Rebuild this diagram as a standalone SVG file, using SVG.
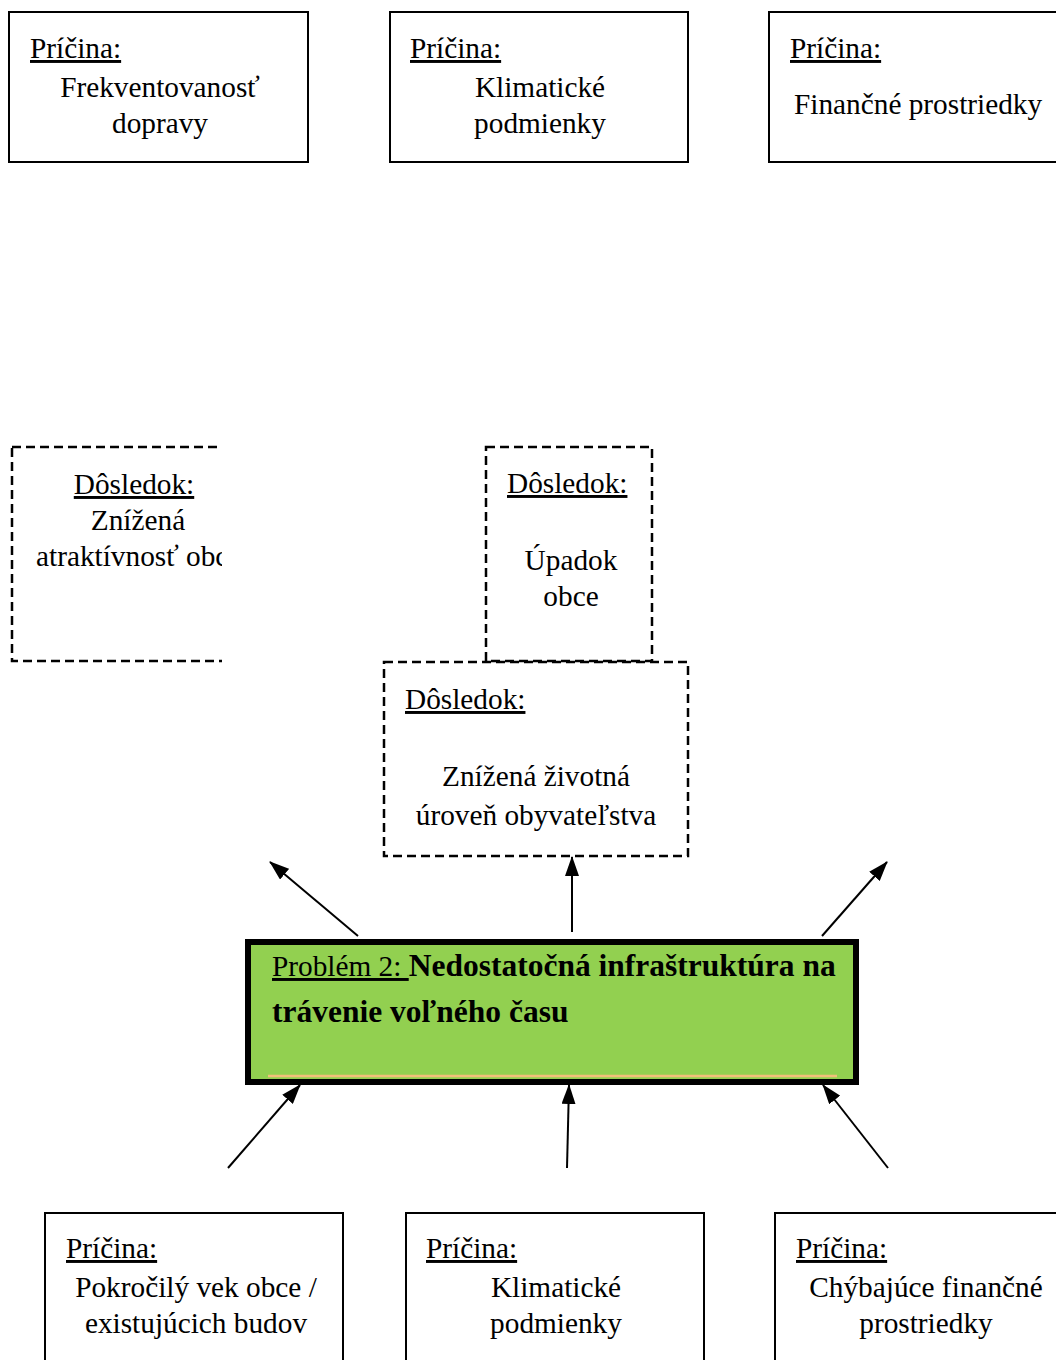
<svg xmlns="http://www.w3.org/2000/svg" width="1056" height="1360" viewBox="0 0 1056 1360" font-family="'Liberation Serif', Tinos, 'Times New Roman', serif">
<style>
text{font-family:'Liberation Serif',Tinos,'Times New Roman',serif;font-size:29.3px;fill:#000}
.u{text-decoration:underline}
.c{text-anchor:middle}
.box{fill:#fff;stroke:#000;stroke-width:2}
.dash{fill:none;stroke:#000;stroke-width:2.5;stroke-dasharray:9,5}
.b{font-weight:bold;font-size:31.5px}
</style>
<defs>
<marker id="ah2" viewBox="0 0 20 14" refX="19" refY="7" markerWidth="20" markerHeight="14" markerUnits="userSpaceOnUse" orient="auto">
<path d="M0,0 L20,7 L0,14 z" fill="#000"/>
</marker>
<clipPath id="clipL"><rect x="0" y="440" width="222" height="230"/></clipPath>
</defs>

<g id="cause-top-1">
<rect class="box" x="9" y="12" width="299" height="150"/>
<text class="u" x="30" y="58">Príčina:</text>
<text class="c" x="160" y="97">Frekventovanosť</text>
<text class="c" x="160" y="133">dopravy</text>
</g>
<g id="cause-top-2">
<rect class="box" x="390" y="12" width="298" height="150"/>
<text class="u" x="410" y="58">Príčina:</text>
<text class="c" x="540" y="97">Klimatické</text>
<text class="c" x="540" y="133">podmienky</text>
</g>
<g id="cause-top-3">
<rect class="box" x="769" y="12" width="300" height="150"/>
<text class="u" x="790" y="58">Príčina:</text>
<text x="794" y="114">Finančné prostriedky</text>
</g>

<g id="effect-left" clip-path="url(#clipL)">
<rect class="dash" x="12" y="447" width="260" height="214"/>
<text class="u c" x="134" y="494">Dôsledok:</text>
<text class="c" x="138" y="530">Znížená</text>
<text x="36" y="566">atraktívnosť obce</text>
</g>
<g id="effect-upadok">
<rect class="dash" x="486" y="447" width="166" height="214"/>
<text class="u" x="507" y="493">Dôsledok:</text>
<text class="c" x="571" y="570">Úpadok</text>
<text class="c" x="571" y="606">obce</text>
</g>
<g id="effect-life">
<rect class="dash" x="384" y="662" width="304" height="194"/>
<text class="u" x="405" y="709">Dôsledok:</text>
<text class="c" x="536" y="786">Znížená životná</text>
<text class="c" x="536" y="825">úroveň obyvateľstva</text>
</g>

<g id="problem">
<rect x="248" y="942" width="608" height="140" fill="#92D050" stroke="#000" stroke-width="6"/>
<line x1="268" y1="1076" x2="837" y2="1076" stroke="#F2C07A" stroke-width="2.5"/>
<text x="272" y="976"><tspan class="u">Problém 2: </tspan><tspan class="b">Nedostatočná infraštruktúra na</tspan></text>
<text class="b" x="272" y="1022">trávenie voľného času</text>
</g>

<g id="cause-bottom-1">
<rect class="box" x="45" y="1213" width="298" height="160"/>
<text class="u" x="66" y="1258">Príčina:</text>
<text class="c" x="196" y="1297">Pokročilý vek obce /</text>
<text class="c" x="196" y="1333">existujúcich budov</text>
</g>
<g id="cause-bottom-2">
<rect class="box" x="406" y="1213" width="298" height="160"/>
<text class="u" x="426" y="1258">Príčina:</text>
<text class="c" x="556" y="1297">Klimatické</text>
<text class="c" x="556" y="1333">podmienky</text>
</g>
<g id="cause-bottom-3">
<rect class="box" x="775" y="1213" width="300" height="160"/>
<text class="u" x="796" y="1258">Príčina:</text>
<text class="c" x="926" y="1297">Chýbajúce finančné</text>
<text class="c" x="926" y="1333">prostriedky</text>
</g>

<g id="connectors">
<line x1="358" y1="936" x2="270" y2="862" stroke="#000" stroke-width="2" marker-end="url(#ah2)"/>
<line x1="572" y1="932" x2="572" y2="857" stroke="#000" stroke-width="2" marker-end="url(#ah2)"/>
<line x1="822" y1="936" x2="887" y2="862" stroke="#000" stroke-width="2" marker-end="url(#ah2)"/>
<line x1="228" y1="1168" x2="300" y2="1085" stroke="#000" stroke-width="2" marker-end="url(#ah2)"/>
<line x1="567" y1="1168" x2="569" y2="1085" stroke="#000" stroke-width="2" marker-end="url(#ah2)"/>
<line x1="888" y1="1168" x2="823" y2="1085" stroke="#000" stroke-width="2" marker-end="url(#ah2)"/>
</g>
</svg>
